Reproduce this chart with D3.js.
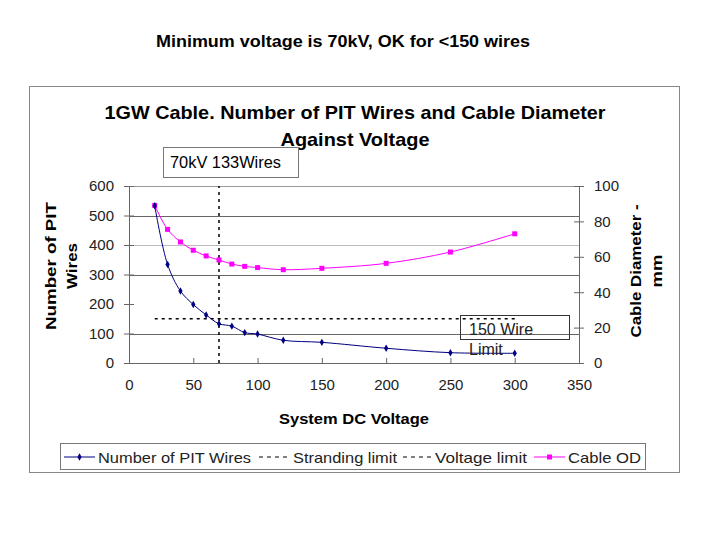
<!DOCTYPE html>
<html><head><meta charset="utf-8">
<script src="https://cdn.jsdelivr.net/npm/d3@7"></script>
<style>body{margin:0;background:#fff}svg{display:block;font-family:"Liberation Sans",Arial,sans-serif}</style>
</head><body>
<script>
const voltage = [20,30,40,50,60,70,80,90,100,120,150,200,250,300];
const pitWires = [533,334,244,198,163,133,125,103,98,77,70,50,35,33];
const cableOD = [89,75.5,68.4,63.7,60.5,58.2,55.9,54.6,53.9,52.7,53.5,56.3,62.7,73];
const strandingV = [20,300], strandingWires = [150,150];
const voltageLimitV = [70,70], voltageLimitWires = [0,600];
const xTicks = [0,50,100,150,200,250,300,350];
const yLeftTicks = [0,100,200,300,400,500,600];
const yRightTicks = [0,20,40,60,80,100];
const legendLabels = ["Number of PIT Wires","Stranding limit","Voltage limit","Cable OD"];

const W=720,H=540;
const svg=d3.select("body").append("svg").attr("width",W).attr("height",H);
const x=d3.scaleLinear().domain([0,350]).range([129,579]);
const yL=d3.scaleLinear().domain([0,600]).range([363,186]);
const yR=d3.scaleLinear().domain([0,100]).range([363,186]);

function txt(sel,len){ if(len) sel.attr("textLength",len).attr("lengthAdjust","spacingAndGlyphs"); return sel; }

txt(svg.append("text").attr("x",343).attr("y",47).attr("text-anchor","middle")
  .attr("font-weight","bold").attr("font-size",16).text("Minimum voltage is 70kV, OK for <150 wires"),374);

// chart area
svg.append("rect").attr("x",29.5).attr("y",86.5).attr("width",650).attr("height",386)
  .attr("fill","#fff").attr("stroke","#888");

txt(svg.append("text").attr("x",355).attr("y",119).attr("text-anchor","middle")
  .attr("font-weight","bold").attr("font-size",19).text("1GW Cable. Number of PIT Wires and Cable Diameter"),501);
txt(svg.append("text").attr("x",355).attr("y",146).attr("text-anchor","middle")
  .attr("font-weight","bold").attr("font-size",19).text("Against Voltage"),149);

// gridlines
const grid=[{v:500,c:"#666"},{v:400,c:"#bbb"},{v:300,c:"#666"},{v:100,c:"#666"},{v:600,c:"#999"}];
svg.append("g").selectAll("line").data(grid).join("line")
  .attr("x1",x(0)).attr("x2",x(350)).attr("y1",d=>Math.round(yL(d.v))+0.5).attr("y2",d=>Math.round(yL(d.v))+0.5)
  .attr("stroke",d=>d.c).attr("stroke-width",1);

// axes
const axL=d3.axisLeft(yL).tickValues(yLeftTicks).tickSizeInner(5).tickSizeOuter(0).tickPadding(10);
const gL=svg.append("g").attr("transform",`translate(${x(0)},0)`).call(axL);
const axR=d3.axisRight(yR).tickValues(yRightTicks).tickSizeInner(5).tickSizeOuter(0).tickPadding(10);
const gR=svg.append("g").attr("transform",`translate(${x(350)},0)`).call(axR);
const axB=d3.axisBottom(x).tickValues(xTicks).tickSizeInner(-5).tickSizeOuter(0).tickPadding(16);
const gB=svg.append("g").attr("transform",`translate(0,${yL(0)})`).call(axB);
[gL,gR,gB].forEach(g=>{
  g.select(".domain").attr("stroke","#666");
  g.selectAll(".tick line").attr("stroke","#666");
  g.selectAll("text").attr("font-size",15).attr("fill","#222").attr("font-family",'"Liberation Sans",Arial,sans-serif');
});
gL.selectAll(".tick line").attr("x1",5);
gR.selectAll(".tick line").attr("x1",-5);
gB.selectAll(".tick text").attr("dy","0.71em");

// axis titles
txt(svg.append("text").attr("transform","translate(56,266) rotate(-90)").attr("text-anchor","middle")
  .attr("font-weight","bold").attr("font-size",15).text("Number of PIT"),128);
txt(svg.append("text").attr("transform","translate(77,266) rotate(-90)").attr("text-anchor","middle")
  .attr("font-weight","bold").attr("font-size",15).text("Wires"),46);
txt(svg.append("text").attr("transform","translate(641,271) rotate(-90)").attr("text-anchor","middle")
  .attr("font-weight","bold").attr("font-size",15).text("Cable Diameter -"),133);
txt(svg.append("text").attr("transform","translate(662,271) rotate(-90)").attr("text-anchor","middle")
  .attr("font-weight","bold").attr("font-size",15).text("mm"),33);
txt(svg.append("text").attr("x",354).attr("y",424).attr("text-anchor","middle")
  .attr("font-weight","bold").attr("font-size",15).text("System DC Voltage"),150);

// limits
svg.append("path").datum(strandingV.map((v,i)=>[v,strandingWires[i]]))
  .attr("d",d3.line().x(d=>x(d[0])).y(d=>yL(d[1]))).attr("stroke","#000").attr("stroke-width",1.5)
  .attr("stroke-dasharray","3,4").attr("fill","none");
svg.append("path").datum(voltageLimitV.map((v,i)=>[v,voltageLimitWires[i]]))
  .attr("d",d3.line().x(d=>x(d[0])).y(d=>yL(d[1]))).attr("stroke","#000").attr("stroke-width",1.5)
  .attr("stroke-dasharray","3,4").attr("fill","none");

// series
const curve=d3.curveCatmullRom.alpha(0.5);
svg.append("path").datum(voltage.map((v,i)=>[v,cableOD[i]]))
  .attr("d",d3.line().curve(curve).x(d=>x(d[0])).y(d=>yR(d[1]))).attr("stroke","#ff00ff").attr("stroke-width",1).attr("fill","none");
svg.append("g").selectAll("rect").data(voltage.map((v,i)=>[v,cableOD[i]])).join("rect")
  .attr("x",d=>x(d[0])-2.5).attr("y",d=>yR(d[1])-2.5).attr("width",5).attr("height",5).attr("fill","#ff00ff");

svg.append("path").datum(voltage.map((v,i)=>[v,pitWires[i]]))
  .attr("d",d3.line().curve(curve).x(d=>x(d[0])).y(d=>yL(d[1]))).attr("stroke","#000080").attr("stroke-width",1).attr("fill","none");
svg.append("g").selectAll("path").data(voltage.map((v,i)=>[v,pitWires[i]])).join("path")
  .attr("d",d3.symbol(d3.symbolDiamond,16)).attr("transform",d=>`translate(${x(d[0])},${yL(d[1])})`).attr("fill","#000080");

// annotation boxes
svg.append("rect").attr("x",163.5).attr("y",147.5).attr("width",135).attr("height",30)
  .attr("fill","#fff").attr("stroke","#777");
txt(svg.append("text").attr("x",170).attr("y",168).attr("font-size",16).text("70kV 133Wires"),111);
svg.append("rect").attr("x",460.5).attr("y",315.5).attr("width",109).attr("height",24)
  .attr("fill","none").attr("stroke","#333");
svg.append("text").attr("x",469).attr("y",335).attr("font-size",16).attr("fill","#222").text("150 Wire");
svg.append("text").attr("x",469).attr("y",355).attr("font-size",16).attr("fill","#222").text("Limit");

// legend
svg.append("rect").attr("x",60.5).attr("y",443.5).attr("width",585).attr("height",26)
  .attr("fill","#fff").attr("stroke","#777");
const lg=svg.append("g");
const items=[
  {x0:64,x1:95,tx:98,len:153,c:"#000080",dash:null,m:"d"},
  {x0:259,x1:290,tx:293,len:104,c:"#000",dash:"4,4",m:null},
  {x0:403,x1:432,tx:435,len:92,c:"#000",dash:"4,4",m:null},
  {x0:534,x1:565,tx:568,len:73,c:"#ff00ff",dash:null,m:"s"}
];
items.forEach((it,i)=>{
  lg.append("line").attr("x1",it.x0).attr("x2",it.x1).attr("y1",457).attr("y2",457)
    .attr("stroke",it.c).attr("stroke-width",it.dash?1.2:1).attr("stroke-dasharray",it.dash);
  const mx=(it.x0+it.x1)/2;
  if(it.m==="d") lg.append("path").attr("d",d3.symbol(d3.symbolDiamond,16)).attr("transform",`translate(${mx},457)`).attr("fill",it.c);
  if(it.m==="s") lg.append("rect").attr("x",mx-2.5).attr("y",454.5).attr("width",5).attr("height",5).attr("fill",it.c);
  txt(lg.append("text").attr("x",it.tx).attr("y",463).attr("font-size",15).attr("fill","#222").text(legendLabels[i]),it.len);
});
</script>
</body></html>
